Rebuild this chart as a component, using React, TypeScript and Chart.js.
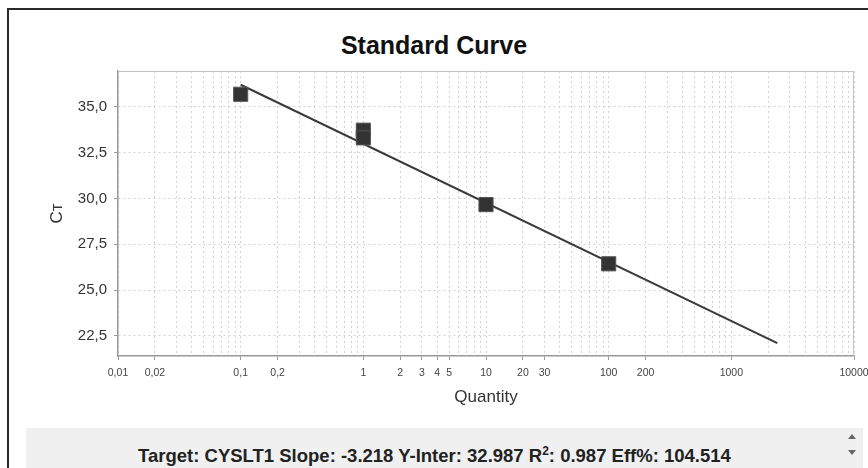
import React, { useEffect, useRef } from "react";
import { Chart, registerables } from "chart.js";

Chart.register(...registerables);

// ---- data ----
const quantities = [0.1, 1, 1, 10, 100];
const ctValues = [35.68, 33.72, 33.3, 29.66, 26.43];
const fitQuantities = [0.1, 2370];
const fitCtValues = [36.2, 22.1];

// ---- axis structure ----
const xGridDecades = [0.01, 0.1, 1, 10, 100, 1000];
const xGridMultipliers = [1, 2, 3, 4, 5, 6, 7, 8, 9];
const xLastTick = 10000;
const xLabelValues = [0.01, 0.02, 0.1, 0.2, 1, 2, 3, 4, 5, 10, 20, 30, 100, 200, 1000, 10000];
const yTickValues = [22.5, 25, 27.5, 30, 32.5, 35];
const xMin = 0.01;
const xMax = 10000;
const yMin = 21.4;
const yMax = 36.95;

const titleText = "Standard Curve";
const xTitle = "Quantity";
const yTitle = "C\u1d1b";

const FONT = "'Liberation Sans', Arial, Helvetica, sans-serif";

const isLabeled = (v: number) => xLabelValues.some((l) => Math.abs(l - v) / l < 1e-6);
const fmtX = (v: number) => String(v).replace(".", ",");
const fmtY = (v: number) => v.toFixed(1).replace(".", ",");

export default function App() {
  const canvasRef = useRef<HTMLCanvasElement | null>(null);

  useEffect(() => {
    document.body.style.margin = "0";
    const canvas = canvasRef.current;
    if (!canvas) return;

    const xGridValues: number[] = [];
    xGridDecades.forEach((d) =>
      xGridMultipliers.forEach((m) => xGridValues.push(Number((d * m).toPrecision(6))))
    );
    xGridValues.push(xLastTick);

    const plotBorder = {
      id: "plotBorder",
      afterDraw(chart: any) {
        const { ctx, chartArea } = chart;
        ctx.save();
        ctx.strokeStyle = "#c4c4c4";
        ctx.lineWidth = 1;
        ctx.beginPath();
        ctx.moveTo(chartArea.left, chartArea.top + 0.5);
        ctx.lineTo(chartArea.right - 0.5, chartArea.top + 0.5);
        ctx.lineTo(chartArea.right - 0.5, chartArea.bottom);
        ctx.stroke();
        ctx.restore();
      },
    };

    const chart = new Chart(canvas, {
      type: "scatter",
      data: {
        datasets: [
          {
            label: "Standards",
            data: quantities.map((q, i) => ({ x: q, y: ctValues[i] })),
            pointStyle: "rect",
            pointRadius: 10,
            pointHoverRadius: 10,
            backgroundColor: "#333333",
            borderColor: "#555555",
            borderWidth: 1,
            showLine: false,
            order: 0,
          },
          {
            label: "Fit",
            data: fitQuantities.map((q, i) => ({ x: q, y: fitCtValues[i] })),
            showLine: true,
            pointRadius: 0,
            borderColor: "#3a3a3a",
            borderWidth: 2,
            order: 1,
          },
        ],
      },
      options: {
        animation: false,
        responsive: false,
        devicePixelRatio: 1,
        layout: { padding: { left: 0, top: 71, right: 46, bottom: 0 } },
        plugins: {
          legend: { display: false },
          tooltip: { enabled: false },
          title: { display: false },
        },
        scales: {
          x: {
            type: "logarithmic",
            min: xMin,
            max: xMax,
            afterBuildTicks: (scale: any) => {
              scale.ticks = xGridValues.map((v) => ({ value: v }));
            },
            afterFit: (scale: any) => {
              scale.height = 72;
            },
            ticks: {
              autoSkip: false,
              maxRotation: 0,
              minRotation: 0,
              padding: 7,
              color: "#444",
              font: { family: FONT, size: 10.5 },
              callback: (v: any) => (isLabeled(Number(v)) ? fmtX(Number(v)) : ""),
            },
            grid: {
              color: "#d2d2d2",
              lineWidth: 1,
              tickLength: 4,
              tickColor: (ctx: any) =>
                ctx.tick && isLabeled(ctx.tick.value) ? "#999" : "rgba(0,0,0,0)",
              tickWidth: 1,
            },
            border: { display: true, color: "#999", width: 1.5, dash: [2, 3] },
            title: {
              display: true,
              text: xTitle,
              color: "#333",
              font: { family: FONT, size: 17 },
              padding: { top: 4, bottom: 20 },
            },
          },
          y: {
            type: "linear",
            min: yMin,
            max: yMax,
            afterBuildTicks: (scale: any) => {
              scale.ticks = yTickValues.map((v) => ({ value: v }));
            },
            afterFit: (scale: any) => {
              scale.width = 118;
            },
            ticks: {
              padding: 7,
              color: "#333",
              font: { family: FONT, size: 15 },
              callback: (v: any) => fmtY(Number(v)),
            },
            grid: {
              color: "#d2d2d2",
              lineWidth: 1,
              tickLength: 4,
              tickColor: "#999",
              tickWidth: 1,
            },
            border: { display: true, color: "#999", width: 1.5, dash: [2, 3] },
            title: {
              display: true,
              text: yTitle,
              color: "#333",
              font: { family: FONT, size: 17 },
              padding: { top: 47, bottom: 0 },
            },
          },
        },
      },
      plugins: [plotBorder],
    } as any);

    return () => chart.destroy();
  }, []);

  return (
    <div
      style={{
        position: "relative",
        width: 868,
        height: 468,
        overflow: "hidden",
        background: "#ffffff",
        fontFamily: FONT,
      }}
    >
      <div
        style={{
          position: "absolute",
          left: 7,
          top: 8,
          width: 1000,
          height: 1000,
          borderLeft: "2px solid #2a2a2a",
          borderTop: "2px solid #2a2a2a",
          boxSizing: "border-box",
        }}
      />
      <div
        style={{
          position: "absolute",
          left: 0,
          top: 30,
          width: 868,
          textAlign: "center",
          fontSize: 25,
          lineHeight: "30px",
          fontWeight: "bold",
          color: "#111",
        }}
      >
        {titleText}
      </div>
      <canvas
        ref={canvasRef}
        width={900}
        height={428}
        style={{ position: "absolute", left: 0, top: 0, width: 900, height: 428 }}
      />
      <div
        style={{
          position: "absolute",
          left: 26,
          top: 428,
          width: 837,
          height: 60,
          background: "#f0f0f0",
        }}
      >
        <div
          style={{
            position: "absolute",
            left: 0,
            top: 18,
            width: 817,
            textAlign: "center",
            fontSize: 18.5,
            lineHeight: "20px",
            fontWeight: "bold",
            color: "#222",
            whiteSpace: "nowrap",
          }}
        >
          Target: CYSLT1 Slope: -3.218 Y-Inter: 32.987 R
          <span style={{ fontSize: 12, verticalAlign: "super", lineHeight: 0 }}>2</span>: 0.987 Eff%: 104.514
        </div>
        <div
          style={{
            position: "absolute",
            left: 822,
            top: 6,
            width: 0,
            height: 0,
            borderLeft: "4px solid transparent",
            borderRight: "4px solid transparent",
            borderBottom: "5px solid #666",
          }}
        />
        <div
          style={{
            position: "absolute",
            left: 822,
            top: 22,
            width: 0,
            height: 0,
            borderLeft: "4px solid transparent",
            borderRight: "4px solid transparent",
            borderTop: "5px solid #666",
          }}
        />
      </div>
    </div>
  );
}
